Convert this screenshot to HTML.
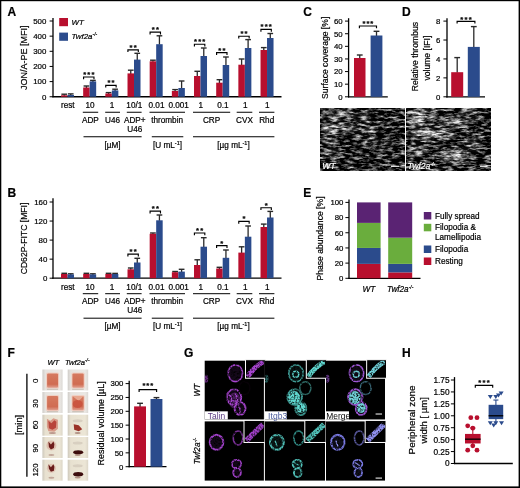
<!DOCTYPE html>
<html><head><meta charset="utf-8"><style>
html,body{margin:0;padding:0;background:#fff;}
svg{display:block;font-family:"Liberation Sans", sans-serif;filter:blur(0.35px);}
</style></head><body>
<svg width="520" height="488" viewBox="0 0 520 488">
<defs>
<filter id="nzA" x="0" y="0" width="1" height="1" color-interpolation-filters="sRGB">
<feTurbulence type="fractalNoise" baseFrequency="0.13 0.42" numOctaves="3" seed="3" result="f"/>
<feColorMatrix in="f" type="matrix" values="2.0 0 0 0 -0.86  2.0 0 0 0 -0.86  2.0 0 0 0 -0.86  0 0 0 0 1" result="fg"/>
<feGaussianBlur in="fg" stdDeviation="0.6"/>
</filter>
<filter id="nzA2" x="0" y="0" width="1" height="1" color-interpolation-filters="sRGB">
<feTurbulence type="fractalNoise" baseFrequency="0.13 0.42" numOctaves="3" seed="3" result="f"/>
<feColorMatrix in="f" type="matrix" values="2.0 0 0 0 -0.5  2.0 0 0 0 -0.5  2.0 0 0 0 -0.5  0 0 0 0 1" result="fg"/>
<feGaussianBlur in="fg" stdDeviation="0.6"/>
</filter>
<filter id="nzB" x="0" y="0" width="1" height="1" color-interpolation-filters="sRGB">
<feTurbulence type="fractalNoise" baseFrequency="0.13 0.42" numOctaves="3" seed="8" result="f"/>
<feColorMatrix in="f" type="matrix" values="2.1 0 0 0 -0.9  2.1 0 0 0 -0.9  2.1 0 0 0 -0.9  0 0 0 0 1" result="fg"/>
<feGaussianBlur in="fg" stdDeviation="0.6"/>
</filter>
<filter id="nzB2" x="0" y="0" width="1" height="1" color-interpolation-filters="sRGB">
<feTurbulence type="fractalNoise" baseFrequency="0.13 0.42" numOctaves="3" seed="8" result="f"/>
<feColorMatrix in="f" type="matrix" values="2.1 0 0 0 -0.48  2.1 0 0 0 -0.48  2.1 0 0 0 -0.48  0 0 0 0 1" result="fg"/>
<feGaussianBlur in="fg" stdDeviation="0.6"/>
</filter>
<filter id="mb" x="-50%" y="-50%" width="200%" height="200%"><feGaussianBlur stdDeviation="2.6"/></filter>
<mask id="mA" maskUnits="userSpaceOnUse" x="320.5" y="108" width="83.7" height="62.4"><rect x="320.5" y="108" width="83.7" height="62.4" fill="#000"/><g filter="url(#mb)"><ellipse cx="334" cy="114" rx="15" ry="6" fill="#b0b0b0"/><ellipse cx="337" cy="129" rx="18" ry="4" fill="#ffffff"/><ellipse cx="366" cy="128" rx="10" ry="3.5" fill="#c0c0c0"/><ellipse cx="329" cy="142" rx="5" ry="3" fill="#ffffff"/><ellipse cx="387" cy="146" rx="5" ry="2.5" fill="#ffffff"/><ellipse cx="331" cy="154" rx="10" ry="4" fill="#a0a0a0"/><ellipse cx="360" cy="117" rx="10" ry="3" fill="#909090"/><ellipse cx="372" cy="141" rx="10" ry="3" fill="#808080"/></g></mask>
<mask id="mB" maskUnits="userSpaceOnUse" x="406.5" y="108" width="84.5" height="62.4"><rect x="406.5" y="108" width="84.5" height="62.4" fill="#000"/><g filter="url(#mb)"><ellipse cx="419" cy="117" rx="13" ry="8" fill="#ffffff"/><ellipse cx="431" cy="134" rx="22" ry="4.5" fill="#ffffff"/><ellipse cx="455" cy="122" rx="15" ry="4" fill="#d0d0d0"/><ellipse cx="454" cy="156" rx="14" ry="6" fill="#ffffff"/><ellipse cx="474" cy="145" rx="7" ry="4" fill="#b0b0b0"/><ellipse cx="418" cy="150" rx="9" ry="4" fill="#b0b0b0"/><ellipse cx="470" cy="112" rx="10" ry="3" fill="#909090"/></g></mask>
<filter id="pb" x="-10%" y="-10%" width="120%" height="120%"><feGaussianBlur stdDeviation="0.55"/></filter>
<linearGradient id="pgA" x1="0" x2="1" y1="0" y2="0"><stop offset="0" stop-color="#cfccc8"/><stop offset="0.15" stop-color="#e6e3df"/><stop offset="0.85" stop-color="#ebe8e4"/><stop offset="1" stop-color="#dcd9d5"/></linearGradient>
<linearGradient id="pgB" x1="0" x2="1" y1="0" y2="0"><stop offset="0" stop-color="#cdc8bc"/><stop offset="0.15" stop-color="#e8e1d0"/><stop offset="0.85" stop-color="#ece6d6"/><stop offset="1" stop-color="#dcd6c8"/></linearGradient>
<linearGradient id="pgO" x1="0" x2="0" y1="0" y2="1"><stop offset="0" stop-color="#d67a60"/><stop offset="0.75" stop-color="#d06c52"/><stop offset="1" stop-color="#e0a090"/></linearGradient>
<g id="ph00"><rect width="20.2" height="21.0" fill="url(#pgA)"/><g filter="url(#pb)"><rect x="3.6" y="3.0" width="13.2" height="16.0" rx="1.5" fill="#f0d0c4"/><rect x="4.7" y="3.9" width="11.0" height="14.4" rx="1.2" fill="url(#pgO)"/><rect x="4.5" y="19.3" width="11.2" height="0.9" fill="#a89888" opacity="0.6"/></g></g>
<g id="ph01"><rect width="20.5" height="21.0" fill="url(#pgA)"/><g filter="url(#pb)"><rect x="3.6" y="3.0" width="13.5" height="16.0" rx="1.5" fill="#f0d0c4"/><rect x="4.7" y="3.9" width="11.3" height="14.4" rx="1.2" fill="url(#pgO)"/><rect x="4.5" y="19.3" width="11.5" height="0.9" fill="#a89888" opacity="0.6"/></g></g>
<g id="ph10"><rect width="20.2" height="21.0" fill="url(#pgA)"/><g filter="url(#pb)"><rect x="3.6" y="3.0" width="13.2" height="16.0" rx="1.5" fill="#f0d0c4"/><rect x="4.7" y="3.9" width="11.0" height="14.4" rx="1.2" fill="url(#pgO)"/><rect x="4.5" y="19.3" width="11.2" height="0.9" fill="#a89888" opacity="0.6"/></g></g>
<g id="ph11"><rect width="20.5" height="21.0" fill="url(#pgA)"/><g filter="url(#pb)"><rect x="3.6" y="3.0" width="13.5" height="16.0" rx="1.5" fill="#f0d0c4"/><rect x="4.7" y="3.9" width="11.3" height="14.4" rx="1.2" fill="url(#pgO)"/><rect x="4.5" y="19.3" width="11.5" height="0.9" fill="#a89888" opacity="0.6"/><path d="M4.5 4 L16 4 L11 9 Z" fill="#e8a890"/><ellipse cx="10" cy="12" rx="5" ry="4" fill="#c84838" opacity="0.7"/></g></g>
<g id="ph20"><rect width="20.2" height="21.0" fill="url(#pgB)"/><g filter="url(#pb)"><path d="M4.5 4 L8 6 L11 3.5 L15.5 5 L15.5 14 L12 17 L6 16.5 L4.5 12 Z" fill="#d89a88"/><path d="M6 6 L9 8.5 L12 5.5 L14 7 L13.5 13 L10 15 L6.5 13.5 Z" fill="#b8443a"/><ellipse cx="10" cy="18.3" rx="3.5" ry="1" fill="#a06a60" opacity="0.6"/></g></g>
<g id="ph21"><rect width="20.5" height="21.0" fill="url(#pgB)"/><g filter="url(#pb)"><path d="M6 9.5 L11 10.5 L14.5 14.5 L11 16.5 L6.5 15 Z" fill="#9a3028"/><ellipse cx="10" cy="6" rx="5" ry="1.5" fill="#d8cfc0"/><ellipse cx="10" cy="18.3" rx="3" ry="1" fill="#8a5a50" opacity="0.6"/></g></g>
<g id="ph30"><rect width="20.2" height="21.0" fill="url(#pgB)"/><g filter="url(#pb)"><ellipse cx="9" cy="8.5" rx="5" ry="5" fill="#d8b0a0" opacity="0.7"/><path d="M6 4.5 L8.5 7.5 L11 4.5 L12 7 L11.5 11 L8.5 12.5 L6.5 10 Z" fill="#6e1e1a"/><ellipse cx="9" cy="18" rx="3" ry="1" fill="#9a6a60" opacity="0.5"/></g></g>
<g id="ph31"><rect width="20.5" height="21.0" fill="url(#pgB)"/><g filter="url(#pb)"><ellipse cx="10.5" cy="15.2" rx="5" ry="2" fill="#3e1010"/><ellipse cx="10" cy="18" rx="3" ry="0.9" fill="#8a5a50" opacity="0.6"/><ellipse cx="10" cy="6" rx="5" ry="1.5" fill="#d8cfc0"/></g></g>
<g id="ph40"><rect width="20.2" height="21.0" fill="url(#pgB)"/><g filter="url(#pb)"><ellipse cx="9" cy="8.5" rx="4.5" ry="4.5" fill="#d8b0a0" opacity="0.6"/><path d="M6 4.5 L8.5 7.5 L11 4.5 L12 7 L11.5 11 L8.5 12 L6.5 9 Z" fill="#6a1e1a"/><ellipse cx="9" cy="18" rx="3" ry="1" fill="#9a6a60" opacity="0.5"/></g></g>
<g id="ph41"><rect width="20.5" height="21.0" fill="url(#pgB)"/><g filter="url(#pb)"><ellipse cx="10.5" cy="14.5" rx="5" ry="2.2" fill="#3e1010"/><ellipse cx="10" cy="17.8" rx="3" ry="0.9" fill="#8a5a50" opacity="0.6"/><ellipse cx="10" cy="6" rx="5" ry="1.5" fill="#d8cfc0"/></g></g>
<filter id="spk0" x="-10%" y="-10%" width="120%" height="120%" color-interpolation-filters="sRGB">
<feTurbulence type="fractalNoise" baseFrequency="0.55" numOctaves="2" seed="5" result="t"/>
<feColorMatrix in="t" type="matrix" values="0 0 0 0 0  0 0 0 0 0  0 0 0 0 0  2.6 0 0 0 -0.45" result="a"/>
<feComposite in="SourceGraphic" in2="a" operator="in" result="s"/>
<feGaussianBlur in="s" stdDeviation="0.25"/>
</filter>
<filter id="spk1" x="-10%" y="-10%" width="120%" height="120%" color-interpolation-filters="sRGB">
<feTurbulence type="fractalNoise" baseFrequency="0.55" numOctaves="2" seed="12" result="t"/>
<feColorMatrix in="t" type="matrix" values="0 0 0 0 0  0 0 0 0 0  0 0 0 0 0  2.6 0 0 0 -0.45" result="a"/>
<feComposite in="SourceGraphic" in2="a" operator="in" result="s"/>
<feGaussianBlur in="s" stdDeviation="0.25"/>
</filter>
<filter id="spk2" x="-10%" y="-10%" width="120%" height="120%" color-interpolation-filters="sRGB">
<feTurbulence type="fractalNoise" baseFrequency="0.55" numOctaves="2" seed="21" result="t"/>
<feColorMatrix in="t" type="matrix" values="0 0 0 0 0  0 0 0 0 0  0 0 0 0 0  2.6 0 0 0 -0.45" result="a"/>
<feComposite in="SourceGraphic" in2="a" operator="in" result="s"/>
<feGaussianBlur in="s" stdDeviation="0.25"/>
</filter>
<g id="g00"><rect width="59.5" height="59" fill="#000"/><g filter="url(#spk0)"><ellipse cx="30.8" cy="12.6" rx="7.2" ry="8.4" fill="#a845d0" fill-opacity="0.12" stroke="#a845d0" stroke-width="1.60"/><ellipse cx="29.5" cy="36.5" rx="7.3" ry="7.8" fill="#a845d0" fill-opacity="0.12" stroke="#a845d0" stroke-width="1.87"/><ellipse cx="35.5" cy="48" rx="5.5" ry="6.5" fill="#a845d0" fill-opacity="0.12" stroke="#a845d0" stroke-width="1.87"/><ellipse cx="40" cy="27.5" rx="5.5" ry="6.5" fill="none" stroke="#080208" stroke-width="1.50"/><path d="M24 34 Q29 37 26 43 M30 33 Q35 38 31 44 M33 45 Q37 48 35 53 M27 40 L33 41" stroke="#a845d0" stroke-width="1.40" fill="none"/><ellipse cx="30" cy="40" rx="6" ry="8" fill="#a845d0" opacity="0.35"/><ellipse cx="1.5" cy="18" rx="2" ry="4" fill="#a845d0" opacity="0.6"/></g><rect x="41" y="-1" width="20" height="18.6" fill="#000" stroke="#fff" stroke-width="1"/><g filter="url(#spk0)"><path d="M43 16 Q50 6 59 1" stroke="#a845d0" stroke-width="5" fill="none"/></g><rect x="0" y="50.8" width="23.2" height="8.2" fill="#fff"/><text x="3.2" y="58.5" font-size="8.5" fill="#5a3a80">Talin</text></g>
<g id="g01"><rect width="59.5" height="59" fill="#000"/><g filter="url(#spk1)"><ellipse cx="30.8" cy="12.6" rx="7.2" ry="8.4" fill="#3e9a94" fill-opacity="0.12" stroke="#3e9a94" stroke-width="1.60"/><ellipse cx="29.5" cy="36.5" rx="7.3" ry="7.8" fill="#3e9a94" fill-opacity="0.12" stroke="#3e9a94" stroke-width="1.87"/><ellipse cx="35.5" cy="48" rx="5.5" ry="6.5" fill="#3e9a94" fill-opacity="0.12" stroke="#3e9a94" stroke-width="1.87"/><ellipse cx="40" cy="27.5" rx="5.5" ry="6.5" fill="none" stroke="#2e6a66" stroke-width="1.50"/><ellipse cx="30.5" cy="13.7" rx="3" ry="3" fill="none" stroke="#60d8d0" stroke-width="1.50"/><ellipse cx="29" cy="37" rx="6" ry="6.5" fill="#60d8d0"/><ellipse cx="35.5" cy="47.5" rx="4.5" ry="5" fill="#60d8d0"/><ellipse cx="1.5" cy="18" rx="2" ry="4" fill="#3e9a94" opacity="0.6"/></g><rect x="41" y="-1" width="20" height="18.6" fill="#000" stroke="#fff" stroke-width="1"/><g filter="url(#spk1)"><path d="M43 16 Q50 6 59 1" stroke="#60d8d0" stroke-width="5" fill="none"/></g><rect x="0" y="50.8" width="21.6" height="8.2" fill="#fff"/><text x="3.2" y="58.5" font-size="8.5" fill="#4a5a9a">Itgb3</text></g>
<g id="g02"><rect width="59.5" height="59" fill="#000"/><g filter="url(#spk2)"><ellipse cx="30.8" cy="12.6" rx="7.2" ry="8.4" fill="#a058d8" fill-opacity="0.12" stroke="#a058d8" stroke-width="1.60"/><ellipse cx="29.5" cy="36.5" rx="7.3" ry="7.8" fill="#a058d8" fill-opacity="0.12" stroke="#a058d8" stroke-width="1.87"/><ellipse cx="35.5" cy="48" rx="5.5" ry="6.5" fill="#a058d8" fill-opacity="0.12" stroke="#a058d8" stroke-width="1.87"/><ellipse cx="40" cy="27.5" rx="5.5" ry="6.5" fill="none" stroke="#3a6a7a" stroke-width="1.50"/><ellipse cx="30.5" cy="13.7" rx="3" ry="3" fill="none" stroke="#70d0d8" stroke-width="1.50"/><ellipse cx="29" cy="37" rx="6" ry="6.5" fill="#70d0d8"/><ellipse cx="35.5" cy="47.5" rx="4.5" ry="5" fill="#70d0d8"/><ellipse cx="1.5" cy="18" rx="2" ry="4" fill="#a058d8" opacity="0.6"/></g><rect x="41" y="-1" width="20" height="18.6" fill="#000" stroke="#fff" stroke-width="1"/><g filter="url(#spk2)"><path d="M43 16 Q50 6 59 1" stroke="#70d0d8" stroke-width="5" fill="none"/></g><rect x="0" y="50.8" width="23.2" height="8.2" fill="#fff"/><text x="0.3" y="58.5" font-size="8.5" fill="#000">Merge</text><line x1="50" y1="53.5" x2="56.5" y2="53.5" stroke="#fff" stroke-width="1"/></g>
<g id="g10"><rect width="59.5" height="59" fill="#000"/><g filter="url(#spk0)"><ellipse cx="11.9" cy="20.8" rx="6.8" ry="7.4" fill="#a040c8" fill-opacity="0.12" stroke="#a040c8" stroke-width="2.06"/><ellipse cx="33.5" cy="16.5" rx="4.8" ry="7" fill="none" stroke="#7a3098" stroke-width="1.60"/><ellipse cx="32" cy="42.5" rx="4.6" ry="4.2" fill="#a040c8" fill-opacity="0.12" stroke="#a040c8" stroke-width="1.87"/><ellipse cx="32.5" cy="51" rx="3.8" ry="4.5" fill="#a040c8" fill-opacity="0.12" stroke="#a040c8" stroke-width="1.87"/></g><rect x="39.5" y="-1" width="21" height="22" fill="#000" stroke="#fff" stroke-width="1"/><g filter="url(#spk0)"><path d="M42 19 Q50 11 58.5 3" stroke="#a040c8" stroke-width="5.5" fill="none"/></g></g>
<g id="g11"><rect width="59.5" height="59" fill="#000"/><g filter="url(#spk1)"><ellipse cx="11.9" cy="20.8" rx="6.8" ry="7.4" fill="#50c0b8" fill-opacity="0.12" stroke="#50c0b8" stroke-width="2.06"/><ellipse cx="33.5" cy="16.5" rx="4.8" ry="7" fill="none" stroke="#308a84" stroke-width="1.60"/><ellipse cx="32" cy="42.5" rx="4.6" ry="4.2" fill="#50c0b8" fill-opacity="0.12" stroke="#50c0b8" stroke-width="1.87"/><ellipse cx="32.5" cy="51" rx="3.8" ry="4.5" fill="#50c0b8" fill-opacity="0.12" stroke="#50c0b8" stroke-width="1.87"/><path d="M10 19 L12 25 M29 41 L34 44" stroke="#50c0b8" stroke-width="1.31"/></g><rect x="39.5" y="-1" width="21" height="22" fill="#000" stroke="#fff" stroke-width="1"/><g filter="url(#spk1)"><path d="M42 19 Q50 11 58.5 3" stroke="#50c0b8" stroke-width="5.5" fill="none"/></g></g>
<g id="g12"><rect width="59.5" height="59" fill="#000"/><g filter="url(#spk2)"><ellipse cx="11.9" cy="20.8" rx="6.8" ry="7.4" fill="#7878e0" fill-opacity="0.12" stroke="#7878e0" stroke-width="2.06"/><ellipse cx="33.5" cy="16.5" rx="4.8" ry="7" fill="none" stroke="#5a5aa0" stroke-width="1.60"/><ellipse cx="32" cy="42.5" rx="4.6" ry="4.2" fill="#7878e0" fill-opacity="0.12" stroke="#7878e0" stroke-width="1.87"/><ellipse cx="32.5" cy="51" rx="3.8" ry="4.5" fill="#7878e0" fill-opacity="0.12" stroke="#7878e0" stroke-width="1.87"/><path d="M10 19 L12 25 M29 41 L34 44" stroke="#9090f0" stroke-width="1.31"/></g><rect x="39.5" y="-1" width="21" height="22" fill="#000" stroke="#fff" stroke-width="1"/><g filter="url(#spk2)"><path d="M42 19 Q50 11 58.5 3" stroke="#9090f0" stroke-width="5.5" fill="none"/></g><line x1="50" y1="56.5" x2="56.5" y2="56.5" stroke="#fff" stroke-width="1"/></g>
</defs>
<rect x="0" y="0" width="520" height="488" fill="#000"/>
<rect x="1.3" y="1.2" width="517.3" height="485.2" fill="#fff"/>
<text x="7.50" y="15.80" font-size="12" font-weight="bold" stroke="#000" stroke-width="0.2">A</text>
<text x="7.50" y="197.00" font-size="12" font-weight="bold" stroke="#000" stroke-width="0.2">B</text>
<text x="303.30" y="15.60" font-size="12" font-weight="bold" stroke="#000" stroke-width="0.2">C</text>
<text x="402.10" y="15.60" font-size="12" font-weight="bold" stroke="#000" stroke-width="0.2">D</text>
<text x="303.30" y="196.80" font-size="12" font-weight="bold" stroke="#000" stroke-width="0.2">E</text>
<text x="7.50" y="357.30" font-size="12" font-weight="bold" stroke="#000" stroke-width="0.2">F</text>
<text x="184.10" y="356.60" font-size="12" font-weight="bold" stroke="#000" stroke-width="0.2">G</text>
<text x="401.90" y="356.80" font-size="12" font-weight="bold" stroke="#000" stroke-width="0.2">H</text>
<line x1="53.00" y1="18.10" x2="53.00" y2="97.35" stroke="#000" stroke-width="1.3"/>
<line x1="52.40" y1="96.75" x2="281.50" y2="96.75" stroke="#000" stroke-width="1.3"/>
<line x1="49.60" y1="96.75" x2="53.00" y2="96.75" stroke="#000" stroke-width="1"/>
<text x="46.30" y="99.59" font-size="7.9" text-anchor="end" stroke="#000" stroke-width="0.2">0</text>
<line x1="49.60" y1="81.60" x2="53.00" y2="81.60" stroke="#000" stroke-width="1"/>
<text x="46.30" y="84.44" font-size="7.9" text-anchor="end" stroke="#000" stroke-width="0.2">100</text>
<line x1="49.60" y1="66.45" x2="53.00" y2="66.45" stroke="#000" stroke-width="1"/>
<text x="46.30" y="69.29" font-size="7.9" text-anchor="end" stroke="#000" stroke-width="0.2">200</text>
<line x1="49.60" y1="51.30" x2="53.00" y2="51.30" stroke="#000" stroke-width="1"/>
<text x="46.30" y="54.14" font-size="7.9" text-anchor="end" stroke="#000" stroke-width="0.2">300</text>
<line x1="49.60" y1="36.15" x2="53.00" y2="36.15" stroke="#000" stroke-width="1"/>
<text x="46.30" y="38.99" font-size="7.9" text-anchor="end" stroke="#000" stroke-width="0.2">400</text>
<line x1="49.60" y1="21.00" x2="53.00" y2="21.00" stroke="#000" stroke-width="1"/>
<text x="46.30" y="23.84" font-size="7.9" text-anchor="end" stroke="#000" stroke-width="0.2">500</text>
<line x1="64.25" y1="95.80" x2="64.25" y2="94.20" stroke="#2a2a2a" stroke-width="1.3"/>
<line x1="61.40" y1="94.20" x2="67.10" y2="94.20" stroke="#2a2a2a" stroke-width="1.4"/>
<rect x="61.00" y="95.30" width="6.50" height="1.45" fill="#b80f2e"/>
<line x1="70.75" y1="95.50" x2="70.75" y2="93.90" stroke="#2a2a2a" stroke-width="1.3"/>
<line x1="67.90" y1="93.90" x2="73.60" y2="93.90" stroke="#2a2a2a" stroke-width="1.4"/>
<rect x="67.50" y="95.00" width="6.50" height="1.75" fill="#2b4b8c"/>
<line x1="86.42" y1="88.00" x2="86.42" y2="86.00" stroke="#2a2a2a" stroke-width="1.3"/>
<line x1="83.57" y1="86.00" x2="89.27" y2="86.00" stroke="#2a2a2a" stroke-width="1.4"/>
<rect x="83.17" y="87.50" width="6.50" height="9.25" fill="#b80f2e"/>
<line x1="92.92" y1="81.90" x2="92.92" y2="80.40" stroke="#2a2a2a" stroke-width="1.3"/>
<line x1="90.07" y1="80.40" x2="95.77" y2="80.40" stroke="#2a2a2a" stroke-width="1.4"/>
<rect x="89.67" y="81.40" width="6.50" height="15.35" fill="#2b4b8c"/>
<line x1="108.59" y1="94.00" x2="108.59" y2="92.60" stroke="#2a2a2a" stroke-width="1.3"/>
<line x1="105.74" y1="92.60" x2="111.44" y2="92.60" stroke="#2a2a2a" stroke-width="1.4"/>
<rect x="105.34" y="93.50" width="6.50" height="3.25" fill="#b80f2e"/>
<line x1="115.09" y1="90.90" x2="115.09" y2="89.20" stroke="#2a2a2a" stroke-width="1.3"/>
<line x1="112.24" y1="89.20" x2="117.94" y2="89.20" stroke="#2a2a2a" stroke-width="1.4"/>
<rect x="111.84" y="90.40" width="6.50" height="6.35" fill="#2b4b8c"/>
<line x1="130.76" y1="73.90" x2="130.76" y2="70.20" stroke="#2a2a2a" stroke-width="1.3"/>
<line x1="127.91" y1="70.20" x2="133.61" y2="70.20" stroke="#2a2a2a" stroke-width="1.4"/>
<rect x="127.51" y="73.40" width="6.50" height="23.35" fill="#b80f2e"/>
<line x1="137.26" y1="60.10" x2="137.26" y2="53.30" stroke="#2a2a2a" stroke-width="1.3"/>
<line x1="134.41" y1="53.30" x2="140.11" y2="53.30" stroke="#2a2a2a" stroke-width="1.4"/>
<rect x="134.01" y="59.60" width="6.50" height="37.15" fill="#2b4b8c"/>
<line x1="152.93" y1="61.80" x2="152.93" y2="60.20" stroke="#2a2a2a" stroke-width="1.3"/>
<line x1="150.08" y1="60.20" x2="155.78" y2="60.20" stroke="#2a2a2a" stroke-width="1.4"/>
<rect x="149.68" y="61.30" width="6.50" height="35.45" fill="#b80f2e"/>
<line x1="159.43" y1="44.70" x2="159.43" y2="35.80" stroke="#2a2a2a" stroke-width="1.3"/>
<line x1="156.58" y1="35.80" x2="162.28" y2="35.80" stroke="#2a2a2a" stroke-width="1.4"/>
<rect x="156.18" y="44.20" width="6.50" height="52.55" fill="#2b4b8c"/>
<line x1="175.10" y1="91.50" x2="175.10" y2="89.60" stroke="#2a2a2a" stroke-width="1.3"/>
<line x1="172.25" y1="89.60" x2="177.95" y2="89.60" stroke="#2a2a2a" stroke-width="1.4"/>
<rect x="171.85" y="91.00" width="6.50" height="5.75" fill="#b80f2e"/>
<line x1="181.60" y1="88.50" x2="181.60" y2="81.00" stroke="#2a2a2a" stroke-width="1.3"/>
<line x1="178.75" y1="81.00" x2="184.45" y2="81.00" stroke="#2a2a2a" stroke-width="1.4"/>
<rect x="178.35" y="88.00" width="6.50" height="8.75" fill="#2b4b8c"/>
<line x1="197.27" y1="76.50" x2="197.27" y2="71.30" stroke="#2a2a2a" stroke-width="1.3"/>
<line x1="194.42" y1="71.30" x2="200.12" y2="71.30" stroke="#2a2a2a" stroke-width="1.4"/>
<rect x="194.02" y="76.00" width="6.50" height="20.75" fill="#b80f2e"/>
<line x1="203.77" y1="56.50" x2="203.77" y2="48.00" stroke="#2a2a2a" stroke-width="1.3"/>
<line x1="200.92" y1="48.00" x2="206.62" y2="48.00" stroke="#2a2a2a" stroke-width="1.4"/>
<rect x="200.52" y="56.00" width="6.50" height="40.75" fill="#2b4b8c"/>
<line x1="219.44" y1="83.20" x2="219.44" y2="79.70" stroke="#2a2a2a" stroke-width="1.3"/>
<line x1="216.59" y1="79.70" x2="222.29" y2="79.70" stroke="#2a2a2a" stroke-width="1.4"/>
<rect x="216.19" y="82.70" width="6.50" height="14.05" fill="#b80f2e"/>
<line x1="225.94" y1="65.50" x2="225.94" y2="57.00" stroke="#2a2a2a" stroke-width="1.3"/>
<line x1="223.09" y1="57.00" x2="228.79" y2="57.00" stroke="#2a2a2a" stroke-width="1.4"/>
<rect x="222.69" y="65.00" width="6.50" height="31.75" fill="#2b4b8c"/>
<line x1="241.61" y1="65.20" x2="241.61" y2="59.00" stroke="#2a2a2a" stroke-width="1.3"/>
<line x1="238.76" y1="59.00" x2="244.46" y2="59.00" stroke="#2a2a2a" stroke-width="1.4"/>
<rect x="238.36" y="64.70" width="6.50" height="32.05" fill="#b80f2e"/>
<line x1="248.11" y1="48.50" x2="248.11" y2="39.60" stroke="#2a2a2a" stroke-width="1.3"/>
<line x1="245.26" y1="39.60" x2="250.96" y2="39.60" stroke="#2a2a2a" stroke-width="1.4"/>
<rect x="244.86" y="48.00" width="6.50" height="48.75" fill="#2b4b8c"/>
<line x1="263.78" y1="50.50" x2="263.78" y2="47.60" stroke="#2a2a2a" stroke-width="1.3"/>
<line x1="260.93" y1="47.60" x2="266.63" y2="47.60" stroke="#2a2a2a" stroke-width="1.4"/>
<rect x="260.53" y="50.00" width="6.50" height="46.75" fill="#b80f2e"/>
<line x1="270.28" y1="38.50" x2="270.28" y2="33.50" stroke="#2a2a2a" stroke-width="1.3"/>
<line x1="267.43" y1="33.50" x2="273.13" y2="33.50" stroke="#2a2a2a" stroke-width="1.4"/>
<rect x="267.03" y="38.00" width="6.50" height="58.75" fill="#2b4b8c"/>
<path d="M83.57 79.30V77.00H93.97V79.30" fill="none" stroke="#000" stroke-width="1.15"/>
<text x="84.62" y="76.90" font-size="7.6" text-anchor="middle" font-weight="bold" stroke="#000" stroke-width="0.2">*</text>
<text x="88.77" y="76.90" font-size="7.6" text-anchor="middle" font-weight="bold" stroke="#000" stroke-width="0.2">*</text>
<text x="92.92" y="76.90" font-size="7.6" text-anchor="middle" font-weight="bold" stroke="#000" stroke-width="0.2">*</text>
<path d="M105.74 87.60V85.30H116.14V87.60" fill="none" stroke="#000" stroke-width="1.15"/>
<text x="108.86" y="85.20" font-size="7.6" text-anchor="middle" font-weight="bold" stroke="#000" stroke-width="0.2">*</text>
<text x="113.02" y="85.20" font-size="7.6" text-anchor="middle" font-weight="bold" stroke="#000" stroke-width="0.2">*</text>
<path d="M127.91 52.10V49.80H138.31V52.10" fill="none" stroke="#000" stroke-width="1.15"/>
<text x="131.04" y="49.70" font-size="7.6" text-anchor="middle" font-weight="bold" stroke="#000" stroke-width="0.2">*</text>
<text x="135.19" y="49.70" font-size="7.6" text-anchor="middle" font-weight="bold" stroke="#000" stroke-width="0.2">*</text>
<path d="M150.08 34.40V32.10H160.48V34.40" fill="none" stroke="#000" stroke-width="1.15"/>
<text x="153.21" y="32.00" font-size="7.6" text-anchor="middle" font-weight="bold" stroke="#000" stroke-width="0.2">*</text>
<text x="157.36" y="32.00" font-size="7.6" text-anchor="middle" font-weight="bold" stroke="#000" stroke-width="0.2">*</text>
<path d="M194.42 46.50V44.20H204.82V46.50" fill="none" stroke="#000" stroke-width="1.15"/>
<text x="195.47" y="44.10" font-size="7.6" text-anchor="middle" font-weight="bold" stroke="#000" stroke-width="0.2">*</text>
<text x="199.62" y="44.10" font-size="7.6" text-anchor="middle" font-weight="bold" stroke="#000" stroke-width="0.2">*</text>
<text x="203.77" y="44.10" font-size="7.6" text-anchor="middle" font-weight="bold" stroke="#000" stroke-width="0.2">*</text>
<path d="M216.59 54.90V52.60H226.99V54.90" fill="none" stroke="#000" stroke-width="1.15"/>
<text x="219.72" y="52.50" font-size="7.6" text-anchor="middle" font-weight="bold" stroke="#000" stroke-width="0.2">*</text>
<text x="223.87" y="52.50" font-size="7.6" text-anchor="middle" font-weight="bold" stroke="#000" stroke-width="0.2">*</text>
<path d="M238.76 38.50V36.20H249.16V38.50" fill="none" stroke="#000" stroke-width="1.15"/>
<text x="241.89" y="36.10" font-size="7.6" text-anchor="middle" font-weight="bold" stroke="#000" stroke-width="0.2">*</text>
<text x="246.04" y="36.10" font-size="7.6" text-anchor="middle" font-weight="bold" stroke="#000" stroke-width="0.2">*</text>
<path d="M260.93 31.70V29.40H271.33V31.70" fill="none" stroke="#000" stroke-width="1.15"/>
<text x="261.98" y="29.30" font-size="7.6" text-anchor="middle" font-weight="bold" stroke="#000" stroke-width="0.2">*</text>
<text x="266.13" y="29.30" font-size="7.6" text-anchor="middle" font-weight="bold" stroke="#000" stroke-width="0.2">*</text>
<text x="270.28" y="29.30" font-size="7.6" text-anchor="middle" font-weight="bold" stroke="#000" stroke-width="0.2">*</text>
<text x="26.90" y="57.80" font-size="9.0" text-anchor="middle" stroke="#000" stroke-width="0.2" transform="rotate(-90 26.90 57.80)">JON/A-PE [MFI]</text>
<text x="67.80" y="108.20" font-size="8.2" text-anchor="middle" stroke="#000" stroke-width="0.2">rest</text>
<text x="89.97" y="108.20" font-size="8.2" text-anchor="middle" stroke="#000" stroke-width="0.2">10</text>
<text x="112.14" y="108.20" font-size="8.2" text-anchor="middle" stroke="#000" stroke-width="0.2">1</text>
<text x="134.31" y="108.20" font-size="8.2" text-anchor="middle" stroke="#000" stroke-width="0.2">10/1</text>
<text x="156.48" y="108.20" font-size="8.2" text-anchor="middle" stroke="#000" stroke-width="0.2">0.01</text>
<text x="178.65" y="108.20" font-size="8.2" text-anchor="middle" stroke="#000" stroke-width="0.2">0.001</text>
<text x="200.82" y="108.20" font-size="8.2" text-anchor="middle" stroke="#000" stroke-width="0.2">1</text>
<text x="222.99" y="108.20" font-size="8.2" text-anchor="middle" stroke="#000" stroke-width="0.2">0.1</text>
<text x="245.16" y="108.20" font-size="8.2" text-anchor="middle" stroke="#000" stroke-width="0.2">1</text>
<text x="267.33" y="108.20" font-size="8.2" text-anchor="middle" stroke="#000" stroke-width="0.2">1</text>
<line x1="82.80" y1="112.25" x2="98.20" y2="112.25" stroke="#000" stroke-width="1"/>
<line x1="105.20" y1="112.25" x2="120.00" y2="112.25" stroke="#000" stroke-width="1"/>
<line x1="126.80" y1="112.25" x2="141.60" y2="112.25" stroke="#000" stroke-width="1"/>
<line x1="149.50" y1="112.25" x2="185.00" y2="112.25" stroke="#000" stroke-width="1"/>
<line x1="193.00" y1="112.25" x2="230.20" y2="112.25" stroke="#000" stroke-width="1"/>
<line x1="236.70" y1="112.25" x2="252.30" y2="112.25" stroke="#000" stroke-width="1"/>
<line x1="259.00" y1="112.25" x2="274.40" y2="112.25" stroke="#000" stroke-width="1"/>
<text x="90.40" y="122.80" font-size="8.2" text-anchor="middle" stroke="#000" stroke-width="0.2">ADP</text>
<text x="112.50" y="122.80" font-size="8.2" text-anchor="middle" stroke="#000" stroke-width="0.2">U46</text>
<text x="134.80" y="122.80" font-size="8.2" text-anchor="middle" stroke="#000" stroke-width="0.2">ADP+</text>
<text x="167.10" y="122.80" font-size="8.2" text-anchor="middle" stroke="#000" stroke-width="0.2">thrombin</text>
<text x="211.60" y="122.80" font-size="8.2" text-anchor="middle" stroke="#000" stroke-width="0.2">CRP</text>
<text x="244.50" y="122.80" font-size="8.2" text-anchor="middle" stroke="#000" stroke-width="0.2">CVX</text>
<text x="266.70" y="122.80" font-size="8.2" text-anchor="middle" stroke="#000" stroke-width="0.2">Rhd</text>
<text x="134.80" y="131.80" font-size="8.2" text-anchor="middle" stroke="#000" stroke-width="0.2">U46</text>
<line x1="83.50" y1="136.75" x2="141.60" y2="136.75" stroke="#000" stroke-width="1"/>
<line x1="151.80" y1="136.75" x2="183.30" y2="136.75" stroke="#000" stroke-width="1"/>
<line x1="193.00" y1="136.75" x2="274.40" y2="136.75" stroke="#000" stroke-width="1"/>
<text x="112.50" y="147.70" font-size="8.2" text-anchor="middle" stroke="#000" stroke-width="0.2">[µM]</text>
<text x="167.50" y="147.70" font-size="8.2" text-anchor="middle" stroke="#000" stroke-width="0.2">[U mL<tspan dy="-3" font-size="5.5">-1</tspan><tspan dy="3">]</tspan></text>
<text x="233.50" y="147.70" font-size="8.2" text-anchor="middle" stroke="#000" stroke-width="0.2">[µg mL<tspan dy="-3" font-size="5.5">-1</tspan><tspan dy="3">]</tspan></text>
<rect x="59.20" y="18.00" width="8.80" height="8.20" fill="#b80f2e"/>
<rect x="59.20" y="32.60" width="8.80" height="8.20" fill="#2b4b8c"/>
<text x="71.60" y="24.80" font-size="7.9" font-style="italic" stroke="#000" stroke-width="0.2">WT</text>
<text x="71.60" y="39.40" font-size="7.9" font-style="italic" stroke="#000" stroke-width="0.2">Twf2a<tspan dy="-3" font-size="5">-/-</tspan></text>
<line x1="53.00" y1="198.35" x2="53.00" y2="278.80" stroke="#000" stroke-width="1.3"/>
<line x1="52.40" y1="278.20" x2="281.50" y2="278.20" stroke="#000" stroke-width="1.3"/>
<line x1="49.60" y1="278.20" x2="53.00" y2="278.20" stroke="#000" stroke-width="1"/>
<text x="47.40" y="281.04" font-size="7.9" text-anchor="end" stroke="#000" stroke-width="0.2">0</text>
<line x1="49.60" y1="259.15" x2="53.00" y2="259.15" stroke="#000" stroke-width="1"/>
<text x="47.40" y="261.99" font-size="7.9" text-anchor="end" stroke="#000" stroke-width="0.2">40</text>
<line x1="49.60" y1="240.10" x2="53.00" y2="240.10" stroke="#000" stroke-width="1"/>
<text x="47.40" y="242.94" font-size="7.9" text-anchor="end" stroke="#000" stroke-width="0.2">80</text>
<line x1="49.60" y1="221.05" x2="53.00" y2="221.05" stroke="#000" stroke-width="1"/>
<text x="47.40" y="223.89" font-size="7.9" text-anchor="end" stroke="#000" stroke-width="0.2">120</text>
<line x1="49.60" y1="202.00" x2="53.00" y2="202.00" stroke="#000" stroke-width="1"/>
<text x="47.40" y="204.84" font-size="7.9" text-anchor="end" stroke="#000" stroke-width="0.2">160</text>
<line x1="64.25" y1="274.50" x2="64.25" y2="273.30" stroke="#2a2a2a" stroke-width="1.3"/>
<line x1="61.40" y1="273.30" x2="67.10" y2="273.30" stroke="#2a2a2a" stroke-width="1.4"/>
<rect x="61.00" y="274.00" width="6.50" height="4.20" fill="#b80f2e"/>
<line x1="70.75" y1="274.90" x2="70.75" y2="273.80" stroke="#2a2a2a" stroke-width="1.3"/>
<line x1="67.90" y1="273.80" x2="73.60" y2="273.80" stroke="#2a2a2a" stroke-width="1.4"/>
<rect x="67.50" y="274.40" width="6.50" height="3.80" fill="#2b4b8c"/>
<line x1="86.42" y1="274.50" x2="86.42" y2="273.30" stroke="#2a2a2a" stroke-width="1.3"/>
<line x1="83.57" y1="273.30" x2="89.27" y2="273.30" stroke="#2a2a2a" stroke-width="1.4"/>
<rect x="83.17" y="274.00" width="6.50" height="4.20" fill="#b80f2e"/>
<line x1="92.92" y1="274.90" x2="92.92" y2="273.80" stroke="#2a2a2a" stroke-width="1.3"/>
<line x1="90.07" y1="273.80" x2="95.77" y2="273.80" stroke="#2a2a2a" stroke-width="1.4"/>
<rect x="89.67" y="274.40" width="6.50" height="3.80" fill="#2b4b8c"/>
<line x1="108.59" y1="274.50" x2="108.59" y2="273.30" stroke="#2a2a2a" stroke-width="1.3"/>
<line x1="105.74" y1="273.30" x2="111.44" y2="273.30" stroke="#2a2a2a" stroke-width="1.4"/>
<rect x="105.34" y="274.00" width="6.50" height="4.20" fill="#b80f2e"/>
<line x1="115.09" y1="274.50" x2="115.09" y2="273.40" stroke="#2a2a2a" stroke-width="1.3"/>
<line x1="112.24" y1="273.40" x2="117.94" y2="273.40" stroke="#2a2a2a" stroke-width="1.4"/>
<rect x="111.84" y="274.00" width="6.50" height="4.20" fill="#2b4b8c"/>
<line x1="130.76" y1="269.80" x2="130.76" y2="268.00" stroke="#2a2a2a" stroke-width="1.3"/>
<line x1="127.91" y1="268.00" x2="133.61" y2="268.00" stroke="#2a2a2a" stroke-width="1.4"/>
<rect x="127.51" y="269.30" width="6.50" height="8.90" fill="#b80f2e"/>
<line x1="137.26" y1="263.00" x2="137.26" y2="258.30" stroke="#2a2a2a" stroke-width="1.3"/>
<line x1="134.41" y1="258.30" x2="140.11" y2="258.30" stroke="#2a2a2a" stroke-width="1.4"/>
<rect x="134.01" y="262.50" width="6.50" height="15.70" fill="#2b4b8c"/>
<line x1="152.93" y1="234.30" x2="152.93" y2="233.00" stroke="#2a2a2a" stroke-width="1.3"/>
<line x1="150.08" y1="233.00" x2="155.78" y2="233.00" stroke="#2a2a2a" stroke-width="1.4"/>
<rect x="149.68" y="233.80" width="6.50" height="44.40" fill="#b80f2e"/>
<line x1="159.43" y1="220.80" x2="159.43" y2="215.00" stroke="#2a2a2a" stroke-width="1.3"/>
<line x1="156.58" y1="215.00" x2="162.28" y2="215.00" stroke="#2a2a2a" stroke-width="1.4"/>
<rect x="156.18" y="220.30" width="6.50" height="57.90" fill="#2b4b8c"/>
<line x1="175.10" y1="272.70" x2="175.10" y2="271.50" stroke="#2a2a2a" stroke-width="1.3"/>
<line x1="172.25" y1="271.50" x2="177.95" y2="271.50" stroke="#2a2a2a" stroke-width="1.4"/>
<rect x="171.85" y="272.20" width="6.50" height="6.00" fill="#b80f2e"/>
<line x1="181.60" y1="272.10" x2="181.60" y2="269.30" stroke="#2a2a2a" stroke-width="1.3"/>
<line x1="178.75" y1="269.30" x2="184.45" y2="269.30" stroke="#2a2a2a" stroke-width="1.4"/>
<rect x="178.35" y="271.60" width="6.50" height="6.60" fill="#2b4b8c"/>
<line x1="197.27" y1="265.50" x2="197.27" y2="259.80" stroke="#2a2a2a" stroke-width="1.3"/>
<line x1="194.42" y1="259.80" x2="200.12" y2="259.80" stroke="#2a2a2a" stroke-width="1.4"/>
<rect x="194.02" y="265.00" width="6.50" height="13.20" fill="#b80f2e"/>
<line x1="203.77" y1="247.20" x2="203.77" y2="237.70" stroke="#2a2a2a" stroke-width="1.3"/>
<line x1="200.92" y1="237.70" x2="206.62" y2="237.70" stroke="#2a2a2a" stroke-width="1.4"/>
<rect x="200.52" y="246.70" width="6.50" height="31.50" fill="#2b4b8c"/>
<line x1="219.44" y1="269.00" x2="219.44" y2="267.30" stroke="#2a2a2a" stroke-width="1.3"/>
<line x1="216.59" y1="267.30" x2="222.29" y2="267.30" stroke="#2a2a2a" stroke-width="1.4"/>
<rect x="216.19" y="268.50" width="6.50" height="9.70" fill="#b80f2e"/>
<line x1="225.94" y1="258.30" x2="225.94" y2="250.00" stroke="#2a2a2a" stroke-width="1.3"/>
<line x1="223.09" y1="250.00" x2="228.79" y2="250.00" stroke="#2a2a2a" stroke-width="1.4"/>
<rect x="222.69" y="257.80" width="6.50" height="20.40" fill="#2b4b8c"/>
<line x1="241.61" y1="253.10" x2="241.61" y2="246.80" stroke="#2a2a2a" stroke-width="1.3"/>
<line x1="238.76" y1="246.80" x2="244.46" y2="246.80" stroke="#2a2a2a" stroke-width="1.4"/>
<rect x="238.36" y="252.60" width="6.50" height="25.60" fill="#b80f2e"/>
<line x1="248.11" y1="237.20" x2="248.11" y2="226.00" stroke="#2a2a2a" stroke-width="1.3"/>
<line x1="245.26" y1="226.00" x2="250.96" y2="226.00" stroke="#2a2a2a" stroke-width="1.4"/>
<rect x="244.86" y="236.70" width="6.50" height="41.50" fill="#2b4b8c"/>
<line x1="263.78" y1="227.50" x2="263.78" y2="224.10" stroke="#2a2a2a" stroke-width="1.3"/>
<line x1="260.93" y1="224.10" x2="266.63" y2="224.10" stroke="#2a2a2a" stroke-width="1.4"/>
<rect x="260.53" y="227.00" width="6.50" height="51.20" fill="#b80f2e"/>
<line x1="270.28" y1="218.00" x2="270.28" y2="211.40" stroke="#2a2a2a" stroke-width="1.3"/>
<line x1="267.43" y1="211.40" x2="273.13" y2="211.40" stroke="#2a2a2a" stroke-width="1.4"/>
<rect x="267.03" y="217.50" width="6.50" height="60.70" fill="#2b4b8c"/>
<path d="M127.91 256.40V254.10H138.31V256.40" fill="none" stroke="#000" stroke-width="1.15"/>
<text x="131.04" y="254.00" font-size="7.6" text-anchor="middle" font-weight="bold" stroke="#000" stroke-width="0.2">*</text>
<text x="135.19" y="254.00" font-size="7.6" text-anchor="middle" font-weight="bold" stroke="#000" stroke-width="0.2">*</text>
<path d="M150.08 213.40V211.10H160.48V213.40" fill="none" stroke="#000" stroke-width="1.15"/>
<text x="153.21" y="211.00" font-size="7.6" text-anchor="middle" font-weight="bold" stroke="#000" stroke-width="0.2">*</text>
<text x="157.36" y="211.00" font-size="7.6" text-anchor="middle" font-weight="bold" stroke="#000" stroke-width="0.2">*</text>
<path d="M194.42 235.30V233.00H204.82V235.30" fill="none" stroke="#000" stroke-width="1.15"/>
<text x="197.55" y="232.90" font-size="7.6" text-anchor="middle" font-weight="bold" stroke="#000" stroke-width="0.2">*</text>
<text x="201.69" y="232.90" font-size="7.6" text-anchor="middle" font-weight="bold" stroke="#000" stroke-width="0.2">*</text>
<path d="M216.59 247.90V245.60H226.99V247.90" fill="none" stroke="#000" stroke-width="1.15"/>
<text x="221.79" y="245.50" font-size="7.6" text-anchor="middle" font-weight="bold" stroke="#000" stroke-width="0.2">*</text>
<path d="M238.76 223.70V221.40H249.16V223.70" fill="none" stroke="#000" stroke-width="1.15"/>
<text x="243.96" y="221.30" font-size="7.6" text-anchor="middle" font-weight="bold" stroke="#000" stroke-width="0.2">*</text>
<path d="M260.93 210.00V207.70H271.33V210.00" fill="none" stroke="#000" stroke-width="1.15"/>
<text x="266.13" y="207.60" font-size="7.6" text-anchor="middle" font-weight="bold" stroke="#000" stroke-width="0.2">*</text>
<text x="26.90" y="238.50" font-size="8.6" text-anchor="middle" stroke="#000" stroke-width="0.2" transform="rotate(-90 26.90 238.50)">CD62P-FITC [MFI]</text>
<text x="67.80" y="289.65" font-size="8.2" text-anchor="middle" stroke="#000" stroke-width="0.2">rest</text>
<text x="89.97" y="289.65" font-size="8.2" text-anchor="middle" stroke="#000" stroke-width="0.2">10</text>
<text x="112.14" y="289.65" font-size="8.2" text-anchor="middle" stroke="#000" stroke-width="0.2">1</text>
<text x="134.31" y="289.65" font-size="8.2" text-anchor="middle" stroke="#000" stroke-width="0.2">10/1</text>
<text x="156.48" y="289.65" font-size="8.2" text-anchor="middle" stroke="#000" stroke-width="0.2">0.01</text>
<text x="178.65" y="289.65" font-size="8.2" text-anchor="middle" stroke="#000" stroke-width="0.2">0.001</text>
<text x="200.82" y="289.65" font-size="8.2" text-anchor="middle" stroke="#000" stroke-width="0.2">1</text>
<text x="222.99" y="289.65" font-size="8.2" text-anchor="middle" stroke="#000" stroke-width="0.2">0.1</text>
<text x="245.16" y="289.65" font-size="8.2" text-anchor="middle" stroke="#000" stroke-width="0.2">1</text>
<text x="267.33" y="289.65" font-size="8.2" text-anchor="middle" stroke="#000" stroke-width="0.2">1</text>
<line x1="82.80" y1="293.70" x2="98.20" y2="293.70" stroke="#000" stroke-width="1"/>
<line x1="105.20" y1="293.70" x2="120.00" y2="293.70" stroke="#000" stroke-width="1"/>
<line x1="126.80" y1="293.70" x2="141.60" y2="293.70" stroke="#000" stroke-width="1"/>
<line x1="149.50" y1="293.70" x2="185.00" y2="293.70" stroke="#000" stroke-width="1"/>
<line x1="193.00" y1="293.70" x2="230.20" y2="293.70" stroke="#000" stroke-width="1"/>
<line x1="236.70" y1="293.70" x2="252.30" y2="293.70" stroke="#000" stroke-width="1"/>
<line x1="259.00" y1="293.70" x2="274.40" y2="293.70" stroke="#000" stroke-width="1"/>
<text x="90.40" y="304.25" font-size="8.2" text-anchor="middle" stroke="#000" stroke-width="0.2">ADP</text>
<text x="112.50" y="304.25" font-size="8.2" text-anchor="middle" stroke="#000" stroke-width="0.2">U46</text>
<text x="134.80" y="304.25" font-size="8.2" text-anchor="middle" stroke="#000" stroke-width="0.2">ADP+</text>
<text x="167.10" y="304.25" font-size="8.2" text-anchor="middle" stroke="#000" stroke-width="0.2">thrombin</text>
<text x="211.60" y="304.25" font-size="8.2" text-anchor="middle" stroke="#000" stroke-width="0.2">CRP</text>
<text x="244.50" y="304.25" font-size="8.2" text-anchor="middle" stroke="#000" stroke-width="0.2">CVX</text>
<text x="266.70" y="304.25" font-size="8.2" text-anchor="middle" stroke="#000" stroke-width="0.2">Rhd</text>
<text x="134.80" y="313.25" font-size="8.2" text-anchor="middle" stroke="#000" stroke-width="0.2">U46</text>
<line x1="83.50" y1="318.20" x2="141.60" y2="318.20" stroke="#000" stroke-width="1"/>
<line x1="151.80" y1="318.20" x2="183.30" y2="318.20" stroke="#000" stroke-width="1"/>
<line x1="193.00" y1="318.20" x2="274.40" y2="318.20" stroke="#000" stroke-width="1"/>
<text x="112.50" y="329.15" font-size="8.2" text-anchor="middle" stroke="#000" stroke-width="0.2">[µM]</text>
<text x="167.50" y="329.15" font-size="8.2" text-anchor="middle" stroke="#000" stroke-width="0.2">[U mL<tspan dy="-3" font-size="5.5">-1</tspan><tspan dy="3">]</tspan></text>
<text x="233.50" y="329.15" font-size="8.2" text-anchor="middle" stroke="#000" stroke-width="0.2">[µg mL<tspan dy="-3" font-size="5.5">-1</tspan><tspan dy="3">]</tspan></text>
<line x1="348.60" y1="18.20" x2="348.60" y2="97.40" stroke="#000" stroke-width="1.3"/>
<line x1="345.00" y1="96.80" x2="348.60" y2="96.80" stroke="#000" stroke-width="1"/>
<text x="342.60" y="99.61" font-size="7.8" text-anchor="end" stroke="#000" stroke-width="0.2">0</text>
<line x1="345.00" y1="84.18" x2="348.60" y2="84.18" stroke="#000" stroke-width="1"/>
<text x="342.60" y="86.99" font-size="7.8" text-anchor="end" stroke="#000" stroke-width="0.2">10</text>
<line x1="345.00" y1="71.57" x2="348.60" y2="71.57" stroke="#000" stroke-width="1"/>
<text x="342.60" y="74.37" font-size="7.8" text-anchor="end" stroke="#000" stroke-width="0.2">20</text>
<line x1="345.00" y1="58.95" x2="348.60" y2="58.95" stroke="#000" stroke-width="1"/>
<text x="342.60" y="61.76" font-size="7.8" text-anchor="end" stroke="#000" stroke-width="0.2">30</text>
<line x1="345.00" y1="46.33" x2="348.60" y2="46.33" stroke="#000" stroke-width="1"/>
<text x="342.60" y="49.14" font-size="7.8" text-anchor="end" stroke="#000" stroke-width="0.2">40</text>
<line x1="345.00" y1="33.72" x2="348.60" y2="33.72" stroke="#000" stroke-width="1"/>
<text x="342.60" y="36.52" font-size="7.8" text-anchor="end" stroke="#000" stroke-width="0.2">50</text>
<line x1="345.00" y1="21.10" x2="348.60" y2="21.10" stroke="#000" stroke-width="1"/>
<text x="342.60" y="23.91" font-size="7.8" text-anchor="end" stroke="#000" stroke-width="0.2">60</text>
<line x1="348.00" y1="96.80" x2="387.80" y2="96.80" stroke="#000" stroke-width="1.3"/>
<line x1="359.75" y1="58.50" x2="359.75" y2="55.00" stroke="#2a2a2a" stroke-width="1.3"/>
<line x1="356.85" y1="55.00" x2="362.65" y2="55.00" stroke="#2a2a2a" stroke-width="1.4"/>
<rect x="354.00" y="58.00" width="11.50" height="38.80" fill="#b80f2e"/>
<line x1="376.50" y1="36.00" x2="376.50" y2="31.30" stroke="#2a2a2a" stroke-width="1.3"/>
<line x1="373.60" y1="31.30" x2="379.40" y2="31.30" stroke="#2a2a2a" stroke-width="1.4"/>
<rect x="370.60" y="35.50" width="11.80" height="61.30" fill="#2b4b8c"/>
<path d="M359.40 28.30V26.00H376.50V28.30" fill="none" stroke="#000" stroke-width="1.15"/>
<text x="364.05" y="26.30" font-size="7.6" text-anchor="middle" font-weight="bold" stroke="#000" stroke-width="0.2">*</text>
<text x="367.95" y="26.30" font-size="7.6" text-anchor="middle" font-weight="bold" stroke="#000" stroke-width="0.2">*</text>
<text x="371.85" y="26.30" font-size="7.6" text-anchor="middle" font-weight="bold" stroke="#000" stroke-width="0.2">*</text>
<text x="327.90" y="57.80" font-size="8.6" text-anchor="middle" stroke="#000" stroke-width="0.2" transform="rotate(-90 327.90 57.80)">Surface coverage [%]</text>
<line x1="447.00" y1="18.20" x2="447.00" y2="97.40" stroke="#000" stroke-width="1.3"/>
<line x1="443.40" y1="96.80" x2="447.00" y2="96.80" stroke="#000" stroke-width="1"/>
<text x="440.30" y="99.61" font-size="7.8" text-anchor="end" stroke="#000" stroke-width="0.2">0</text>
<line x1="443.40" y1="77.88" x2="447.00" y2="77.88" stroke="#000" stroke-width="1"/>
<text x="440.30" y="80.68" font-size="7.8" text-anchor="end" stroke="#000" stroke-width="0.2">2</text>
<line x1="443.40" y1="58.95" x2="447.00" y2="58.95" stroke="#000" stroke-width="1"/>
<text x="440.30" y="61.76" font-size="7.8" text-anchor="end" stroke="#000" stroke-width="0.2">4</text>
<line x1="443.40" y1="40.03" x2="447.00" y2="40.03" stroke="#000" stroke-width="1"/>
<text x="440.30" y="42.83" font-size="7.8" text-anchor="end" stroke="#000" stroke-width="0.2">6</text>
<line x1="443.40" y1="21.10" x2="447.00" y2="21.10" stroke="#000" stroke-width="1"/>
<text x="440.30" y="23.91" font-size="7.8" text-anchor="end" stroke="#000" stroke-width="0.2">8</text>
<line x1="446.40" y1="96.80" x2="485.00" y2="96.80" stroke="#000" stroke-width="1.3"/>
<line x1="457.20" y1="72.70" x2="457.20" y2="57.60" stroke="#2a2a2a" stroke-width="1.3"/>
<line x1="454.30" y1="57.60" x2="460.10" y2="57.60" stroke="#2a2a2a" stroke-width="1.4"/>
<rect x="451.20" y="72.20" width="12.00" height="24.60" fill="#b80f2e"/>
<line x1="473.80" y1="47.40" x2="473.80" y2="26.60" stroke="#2a2a2a" stroke-width="1.3"/>
<line x1="470.90" y1="26.60" x2="476.70" y2="26.60" stroke="#2a2a2a" stroke-width="1.4"/>
<rect x="467.80" y="46.90" width="12.00" height="49.90" fill="#2b4b8c"/>
<path d="M457.10 23.60V21.30H474.90V23.60" fill="none" stroke="#000" stroke-width="1.15"/>
<text x="461.85" y="21.50" font-size="7.6" text-anchor="middle" font-weight="bold" stroke="#000" stroke-width="0.2">*</text>
<text x="466.00" y="21.50" font-size="7.6" text-anchor="middle" font-weight="bold" stroke="#000" stroke-width="0.2">*</text>
<text x="470.15" y="21.50" font-size="7.6" text-anchor="middle" font-weight="bold" stroke="#000" stroke-width="0.2">*</text>
<text x="418.30" y="56.60" font-size="8.6" text-anchor="middle" stroke="#000" stroke-width="0.2" transform="rotate(-90 418.30 56.60)">Relative thrombus</text>
<text x="430.20" y="58.10" font-size="8.6" text-anchor="middle" stroke="#000" stroke-width="0.2" transform="rotate(-90 430.20 58.10)">volume [IFI]</text>
<rect x="320.5" y="108" width="83.7" height="62.4" fill="#000"/><rect x="320.5" y="108" width="83.7" height="62.4" filter="url(#nzA)"/><g mask="url(#mA)"><rect x="320.5" y="108" width="83.7" height="62.4" filter="url(#nzA2)"/></g>
<rect x="406.5" y="108" width="84.5" height="62.4" fill="#000"/><rect x="406.5" y="108" width="84.5" height="62.4" filter="url(#nzB)"/><g mask="url(#mB)"><rect x="406.5" y="108" width="84.5" height="62.4" filter="url(#nzB2)"/></g>
<text x="322.30" y="169.20" font-size="8.5" font-style="italic" fill="#fff" stroke="#fff" stroke-width="0.2">WT</text>
<text x="407.60" y="169.20" font-size="8.6" font-style="italic" fill="#fff" stroke="#fff" stroke-width="0.2">Twf2a<tspan dy="-3.2" font-size="5">-/-</tspan></text>
<line x1="391.00" y1="166.30" x2="399.40" y2="166.30" stroke="#fff" stroke-width="1.1"/>
<line x1="480.00" y1="166.30" x2="487.50" y2="166.30" stroke="#fff" stroke-width="1.1"/>
<line x1="349.00" y1="199.50" x2="349.00" y2="278.90" stroke="#000" stroke-width="1.3"/>
<line x1="345.40" y1="278.30" x2="349.00" y2="278.30" stroke="#000" stroke-width="1"/>
<text x="343.40" y="281.11" font-size="7.8" text-anchor="end" stroke="#000" stroke-width="0.2">0</text>
<line x1="345.40" y1="263.12" x2="349.00" y2="263.12" stroke="#000" stroke-width="1"/>
<text x="343.40" y="265.93" font-size="7.8" text-anchor="end" stroke="#000" stroke-width="0.2">20</text>
<line x1="345.40" y1="247.94" x2="349.00" y2="247.94" stroke="#000" stroke-width="1"/>
<text x="343.40" y="250.75" font-size="7.8" text-anchor="end" stroke="#000" stroke-width="0.2">40</text>
<line x1="345.40" y1="232.76" x2="349.00" y2="232.76" stroke="#000" stroke-width="1"/>
<text x="343.40" y="235.57" font-size="7.8" text-anchor="end" stroke="#000" stroke-width="0.2">60</text>
<line x1="345.40" y1="217.58" x2="349.00" y2="217.58" stroke="#000" stroke-width="1"/>
<text x="343.40" y="220.39" font-size="7.8" text-anchor="end" stroke="#000" stroke-width="0.2">80</text>
<line x1="345.40" y1="202.40" x2="349.00" y2="202.40" stroke="#000" stroke-width="1"/>
<text x="343.40" y="205.21" font-size="7.8" text-anchor="end" stroke="#000" stroke-width="0.2">100</text>
<line x1="348.40" y1="278.30" x2="420.50" y2="278.30" stroke="#000" stroke-width="1.3"/>
<rect x="357.00" y="263.88" width="23.60" height="14.42" fill="#b80f2e"/>
<rect x="357.00" y="247.94" width="23.60" height="15.94" fill="#2b4b8c"/>
<rect x="357.00" y="222.89" width="23.60" height="25.05" fill="#6aad3d"/>
<rect x="357.00" y="202.40" width="23.60" height="20.49" fill="#5a2373"/>
<rect x="388.20" y="272.38" width="24.00" height="5.92" fill="#b80f2e"/>
<rect x="388.20" y="263.88" width="24.00" height="8.50" fill="#2b4b8c"/>
<rect x="388.20" y="237.69" width="24.00" height="26.19" fill="#6aad3d"/>
<rect x="388.20" y="202.40" width="24.00" height="35.29" fill="#5a2373"/>
<text x="323.20" y="238.50" font-size="8.6" text-anchor="middle" stroke="#000" stroke-width="0.2" transform="rotate(-90 323.20 238.50)">Phase abundance [%]</text>
<text x="368.80" y="291.60" font-size="8.2" text-anchor="middle" font-style="italic" stroke="#000" stroke-width="0.2">WT</text>
<text x="400.20" y="291.60" font-size="8.2" text-anchor="middle" font-style="italic" stroke="#000" stroke-width="0.2">Twf2a<tspan dy="-3" font-size="5">-/-</tspan></text>
<rect x="423.80" y="212.00" width="7.50" height="7.50" fill="#5a2373"/>
<rect x="423.80" y="223.80" width="7.50" height="7.50" fill="#6aad3d"/>
<rect x="423.80" y="245.50" width="7.50" height="7.50" fill="#2b4b8c"/>
<rect x="423.80" y="257.50" width="7.50" height="7.50" fill="#b80f2e"/>
<text x="435.00" y="218.70" font-size="8.2" stroke="#000" stroke-width="0.2">Fully spread</text>
<text x="435.00" y="230.45" font-size="8.2" stroke="#000" stroke-width="0.2">Filopodia &amp;</text>
<text x="435.00" y="240.45" font-size="8.2" stroke="#000" stroke-width="0.2">Lamellipodia</text>
<text x="435.00" y="252.20" font-size="8.2" stroke="#000" stroke-width="0.2">Filopodia</text>
<text x="435.00" y="264.45" font-size="8.2" stroke="#000" stroke-width="0.2">Resting</text>
<text x="53.30" y="364.80" font-size="7.6" text-anchor="middle" font-style="italic" stroke="#000" stroke-width="0.2">WT</text>
<text x="64.90" y="364.80" font-size="7.6" font-style="italic" stroke="#000" stroke-width="0.2">Twf2a<tspan dy="-3" font-size="4.8">-/-</tspan></text>
<line x1="26.90" y1="373.70" x2="26.90" y2="476.70" stroke="#000" stroke-width="1.3"/>
<text x="22.40" y="424.90" font-size="9.3" text-anchor="middle" stroke="#000" stroke-width="0.2" transform="rotate(-90 22.40 424.90)">[min]</text>
<text x="37.80" y="380.80" font-size="7.8" text-anchor="middle" stroke="#000" stroke-width="0.2" transform="rotate(-90 37.80 380.80)">0</text>
<text x="37.80" y="403.40" font-size="7.8" text-anchor="middle" stroke="#000" stroke-width="0.2" transform="rotate(-90 37.80 403.40)">30</text>
<text x="37.80" y="424.90" font-size="7.8" text-anchor="middle" stroke="#000" stroke-width="0.2" transform="rotate(-90 37.80 424.90)">60</text>
<text x="37.80" y="448.20" font-size="7.8" text-anchor="middle" stroke="#000" stroke-width="0.2" transform="rotate(-90 37.80 448.20)">90</text>
<text x="37.80" y="470.00" font-size="7.8" text-anchor="middle" stroke="#000" stroke-width="0.2" transform="rotate(-90 37.80 470.00)">120</text>
<use href="#ph00" x="42.40" y="369.50"/>
<use href="#ph01" x="67.70" y="369.50"/>
<use href="#ph10" x="42.40" y="392.00"/>
<use href="#ph11" x="67.70" y="392.00"/>
<use href="#ph20" x="42.40" y="414.70"/>
<use href="#ph21" x="67.70" y="414.70"/>
<use href="#ph30" x="42.40" y="437.00"/>
<use href="#ph31" x="67.70" y="437.00"/>
<use href="#ph40" x="42.40" y="459.70"/>
<use href="#ph41" x="67.70" y="459.70"/>
<line x1="129.20" y1="380.70" x2="129.20" y2="467.30" stroke="#000" stroke-width="1.3"/>
<line x1="125.60" y1="466.70" x2="129.20" y2="466.70" stroke="#000" stroke-width="1"/>
<text x="123.40" y="469.51" font-size="7.8" text-anchor="end" stroke="#000" stroke-width="0.2">0</text>
<line x1="125.60" y1="452.85" x2="129.20" y2="452.85" stroke="#000" stroke-width="1"/>
<text x="123.40" y="455.66" font-size="7.8" text-anchor="end" stroke="#000" stroke-width="0.2">50</text>
<line x1="125.60" y1="439.00" x2="129.20" y2="439.00" stroke="#000" stroke-width="1"/>
<text x="123.40" y="441.81" font-size="7.8" text-anchor="end" stroke="#000" stroke-width="0.2">100</text>
<line x1="125.60" y1="425.15" x2="129.20" y2="425.15" stroke="#000" stroke-width="1"/>
<text x="123.40" y="427.96" font-size="7.8" text-anchor="end" stroke="#000" stroke-width="0.2">150</text>
<line x1="125.60" y1="411.30" x2="129.20" y2="411.30" stroke="#000" stroke-width="1"/>
<text x="123.40" y="414.11" font-size="7.8" text-anchor="end" stroke="#000" stroke-width="0.2">200</text>
<line x1="125.60" y1="397.45" x2="129.20" y2="397.45" stroke="#000" stroke-width="1"/>
<text x="123.40" y="400.26" font-size="7.8" text-anchor="end" stroke="#000" stroke-width="0.2">250</text>
<line x1="125.60" y1="383.60" x2="129.20" y2="383.60" stroke="#000" stroke-width="1"/>
<text x="123.40" y="386.41" font-size="7.8" text-anchor="end" stroke="#000" stroke-width="0.2">300</text>
<line x1="128.60" y1="466.70" x2="166.50" y2="466.70" stroke="#000" stroke-width="1.3"/>
<line x1="140.05" y1="406.90" x2="140.05" y2="403.30" stroke="#2a2a2a" stroke-width="1.3"/>
<line x1="137.15" y1="403.30" x2="142.95" y2="403.30" stroke="#2a2a2a" stroke-width="1.4"/>
<rect x="134.10" y="406.40" width="11.90" height="60.30" fill="#b80f2e"/>
<line x1="156.45" y1="399.50" x2="156.45" y2="397.60" stroke="#2a2a2a" stroke-width="1.3"/>
<line x1="153.55" y1="397.60" x2="159.35" y2="397.60" stroke="#2a2a2a" stroke-width="1.4"/>
<rect x="150.50" y="399.00" width="11.90" height="67.70" fill="#2b4b8c"/>
<path d="M139.10 391.90V389.60H156.60V391.90" fill="none" stroke="#000" stroke-width="1.15"/>
<text x="143.90" y="388.20" font-size="7.6" text-anchor="middle" font-weight="bold" stroke="#000" stroke-width="0.2">*</text>
<text x="147.85" y="388.20" font-size="7.6" text-anchor="middle" font-weight="bold" stroke="#000" stroke-width="0.2">*</text>
<text x="151.80" y="388.20" font-size="7.6" text-anchor="middle" font-weight="bold" stroke="#000" stroke-width="0.2">*</text>
<text x="104.40" y="423.40" font-size="9.0" text-anchor="middle" stroke="#000" stroke-width="0.2" transform="rotate(-90 104.40 423.40)">Residual volume [µL]</text>
<svg x="204.70" y="360.70" width="59.20" height="58.80" viewBox="0 0 59.5 59" preserveAspectRatio="none"><use href="#g00"/></svg>
<svg x="264.90" y="360.70" width="60.10" height="58.80" viewBox="0 0 59.5 59" preserveAspectRatio="none"><use href="#g01"/></svg>
<svg x="326.00" y="360.70" width="59.00" height="58.80" viewBox="0 0 59.5 59" preserveAspectRatio="none"><use href="#g02"/></svg>
<svg x="204.70" y="421.40" width="59.20" height="59.20" viewBox="0 0 59.5 59" preserveAspectRatio="none"><use href="#g10"/></svg>
<svg x="264.90" y="421.40" width="60.10" height="59.20" viewBox="0 0 59.5 59" preserveAspectRatio="none"><use href="#g11"/></svg>
<svg x="326.00" y="421.40" width="59.00" height="59.20" viewBox="0 0 59.5 59" preserveAspectRatio="none"><use href="#g12"/></svg>
<text x="200.30" y="390.20" font-size="8.2" text-anchor="middle" font-style="italic" stroke="#000" stroke-width="0.2" transform="rotate(-90 200.30 390.20)">WT</text>
<text x="200.30" y="451.00" font-size="8.2" text-anchor="middle" font-style="italic" stroke="#000" stroke-width="0.2" transform="rotate(-90 200.30 451.00)">Twf2a<tspan dy="-3" font-size="5">-/-</tspan></text>
<line x1="454.50" y1="377.10" x2="454.50" y2="464.10" stroke="#000" stroke-width="1.3"/>
<line x1="450.90" y1="463.50" x2="454.50" y2="463.50" stroke="#000" stroke-width="1"/>
<text x="449.60" y="466.49" font-size="8.3" text-anchor="end" stroke="#000" stroke-width="0.2">0</text>
<line x1="450.90" y1="451.57" x2="454.50" y2="451.57" stroke="#000" stroke-width="1"/>
<text x="449.60" y="454.56" font-size="8.3" text-anchor="end" stroke="#000" stroke-width="0.2">0.25</text>
<line x1="450.90" y1="439.64" x2="454.50" y2="439.64" stroke="#000" stroke-width="1"/>
<text x="449.60" y="442.63" font-size="8.3" text-anchor="end" stroke="#000" stroke-width="0.2">0.50</text>
<line x1="450.90" y1="427.71" x2="454.50" y2="427.71" stroke="#000" stroke-width="1"/>
<text x="449.60" y="430.70" font-size="8.3" text-anchor="end" stroke="#000" stroke-width="0.2">0.75</text>
<line x1="450.90" y1="415.79" x2="454.50" y2="415.79" stroke="#000" stroke-width="1"/>
<text x="449.60" y="418.77" font-size="8.3" text-anchor="end" stroke="#000" stroke-width="0.2">1.00</text>
<line x1="450.90" y1="403.86" x2="454.50" y2="403.86" stroke="#000" stroke-width="1"/>
<text x="449.60" y="406.85" font-size="8.3" text-anchor="end" stroke="#000" stroke-width="0.2">1.25</text>
<line x1="450.90" y1="391.93" x2="454.50" y2="391.93" stroke="#000" stroke-width="1"/>
<text x="449.60" y="394.92" font-size="8.3" text-anchor="end" stroke="#000" stroke-width="0.2">1.50</text>
<line x1="450.90" y1="380.00" x2="454.50" y2="380.00" stroke="#000" stroke-width="1"/>
<text x="449.60" y="382.99" font-size="8.3" text-anchor="end" stroke="#000" stroke-width="0.2">1.75</text>
<line x1="453.90" y1="463.50" x2="512.80" y2="463.50" stroke="#000" stroke-width="1.3"/>
<text x="414.80" y="419.90" font-size="9.85" text-anchor="middle" stroke="#000" stroke-width="0.2" transform="rotate(-90 414.80 419.90)">Peripheral zone</text>
<text x="427.30" y="420.30" font-size="9.6" text-anchor="middle" stroke="#000" stroke-width="0.2" transform="rotate(-90 427.30 420.30)">width [ µm]</text>
<path d="M475.30 387.70V385.40H492.70V387.70" fill="none" stroke="#000" stroke-width="1.15"/>
<text x="479.85" y="385.30" font-size="7.6" text-anchor="middle" font-weight="bold" stroke="#000" stroke-width="0.2">*</text>
<text x="484.00" y="385.30" font-size="7.6" text-anchor="middle" font-weight="bold" stroke="#000" stroke-width="0.2">*</text>
<text x="488.15" y="385.30" font-size="7.6" text-anchor="middle" font-weight="bold" stroke="#000" stroke-width="0.2">*</text>
<line x1="472.80" y1="427.71" x2="472.80" y2="446.80" stroke="#b80f2e" stroke-width="1.1"/>
<line x1="470.30" y1="427.71" x2="475.30" y2="427.71" stroke="#b80f2e" stroke-width="1.1"/>
<rect x="465.00" y="433.92" width="15.60" height="9.54" fill="#b80f2e"/>
<line x1="465.00" y1="439.17" x2="480.60" y2="439.17" stroke="#000" stroke-width="1.3"/>
<circle cx="470.80" cy="417.69" r="2.4" fill="#b80f2e"/>
<circle cx="477.00" cy="417.69" r="2.4" fill="#b80f2e"/>
<circle cx="467.70" cy="425.81" r="2.4" fill="#b80f2e"/>
<circle cx="472.80" cy="428.19" r="2.4" fill="#b80f2e"/>
<circle cx="472.80" cy="445.85" r="2.4" fill="#b80f2e"/>
<circle cx="467.70" cy="450.14" r="2.4" fill="#b80f2e"/>
<circle cx="477.00" cy="450.14" r="2.4" fill="#b80f2e"/>
<line x1="495.90" y1="400.04" x2="495.90" y2="424.37" stroke="#2b4b8c" stroke-width="1.1"/>
<line x1="493.40" y1="400.04" x2="498.40" y2="400.04" stroke="#2b4b8c" stroke-width="1.1"/>
<rect x="488.60" y="404.81" width="14.60" height="14.31" fill="#2b4b8c"/>
<line x1="488.60" y1="415.79" x2="503.20" y2="415.79" stroke="#000" stroke-width="1.3"/>
<path d="M487.80 394.90H492.80L490.30 398.90Z" fill="#2b4b8c"/>
<path d="M493.30 394.90H498.30L495.80 398.90Z" fill="#2b4b8c"/>
<path d="M496.00 393.47H501.00L498.50 397.47Z" fill="#2b4b8c"/>
<path d="M498.60 391.56H503.60L501.10 395.56Z" fill="#2b4b8c"/>
<path d="M487.80 421.14H492.80L490.30 425.14Z" fill="#2b4b8c"/>
<path d="M493.30 421.14H498.30L495.80 425.14Z" fill="#2b4b8c"/>
<path d="M499.00 421.14H504.00L501.50 425.14Z" fill="#2b4b8c"/>
<path d="M491.20 423.53H496.20L493.70 427.53Z" fill="#2b4b8c"/>
</svg>
</body></html>
